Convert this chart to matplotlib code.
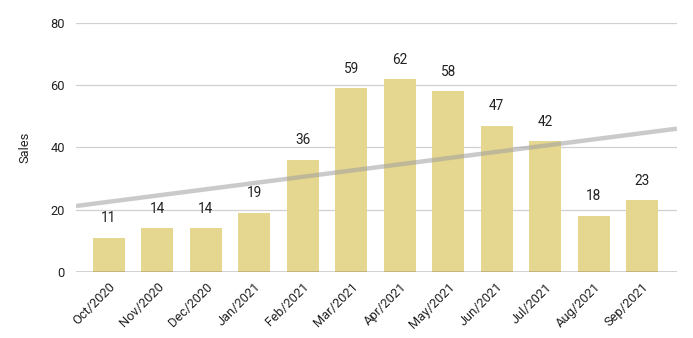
import matplotlib.pyplot as plt
import numpy as np

plt.rcParams['font.family'] = ['Roboto', 'DejaVu Sans']

months = ['Oct/2020', 'Nov/2020', 'Dec/2020', 'Jan/2021', 'Feb/2021', 'Mar/2021',
          'Apr/2021', 'May/2021', 'Jun/2021', 'Jul/2021', 'Aug/2021', 'Sep/2021']
sales = [11, 14, 14, 19, 36, 59, 62, 58, 47, 42, 18, 23]

x = np.arange(len(months))

fig = plt.figure(figsize=(6.93, 3.38), dpi=100)
ax = fig.add_axes([0.1097, 0.1953, 0.867, 0.7367])

ax.bar(x, sales, width=0.66, color='#e5d78f', zorder=2)
for xi, v in zip(x, sales):
    ax.annotate(str(v), (xi, v), xytext=(0, 9), textcoords='offset points',
                ha='center', va='bottom', fontsize=9.8, color='#222222')

# linear trendline over the full width
xlim = (-0.68, 11.72)
m, b = np.polyfit(x, sales, 1)
tx = np.array(xlim)
ax.plot(tx, m * tx + b, color='#a0a0a0', alpha=0.55, linewidth=3.2,
        solid_capstyle='butt', zorder=3)

ax.set_xlim(*xlim)
ax.set_ylim(0, 80)
ax.set_yticks([0, 20, 40, 60, 80])
ax.set_xticks(x)
ax.set_xticklabels(months, rotation=45, ha='right', rotation_mode='anchor')
ax.tick_params(length=0, labelsize=9.3, colors='#222222')
ax.tick_params(axis='y', pad=8)
ax.tick_params(axis='x', pad=6)
ax.grid(axis='y', color='#d0d0d0', linewidth=0.9, zorder=0)
ax.axhline(0, color='#333333', linewidth=1.0, zorder=4)
for s in ax.spines.values():
    s.set_visible(False)
ax.set_ylabel('Sales', fontsize=9.3, color='#222222', labelpad=14)

fig.savefig('out.png', dpi=100)
